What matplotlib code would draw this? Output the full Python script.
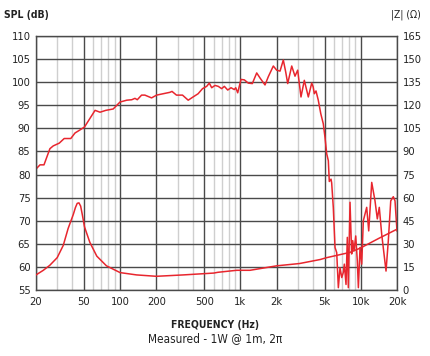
import matplotlib
matplotlib.use("Agg")
import matplotlib.pyplot as plt
from matplotlib.ticker import FixedLocator, NullLocator

plt.rcParams['font.family'] = ['DejaVu Sans']
plt.rcParams['font.stretch'] = 'condensed'

# SPL curve (Hz, dB)
spl_freq = [20, 21.6, 23.3, 26.1, 27.8, 31.2, 34.3, 38.9, 42.2, 46, 50.6, 61.9, 68.1, 76.1,
            87.6, 99.8, 113.6, 124.9, 132.9, 138.9, 150.8, 160.6, 182.6, 201, 228, 259, 270,
            294, 330, 368, 404, 445, 484, 524, 551, 577, 615, 654, 698, 735, 784, 835, 889,
            914, 949, 1011, 1077, 1162, 1255, 1365, 1455, 1600, 1705, 1876, 2000, 2133, 2271,
            2378, 2470, 2668, 2840, 2990, 3185, 3395, 3665, 3910, 4020, 4110, 4245, 4435, 4650,
            4880, 5045, 5210, 5375, 5475, 5660, 5730, 5910, 6110, 6310, 6510, 6720, 6950, 7160,
            7300, 7540, 7730, 7880, 8140, 8400, 8570, 8790, 9080, 9360, 9550, 9860, 10180,
            10500, 11200, 11640, 12330, 13130, 13720, 14250, 14920, 16210, 16940, 17740, 18630,
            19250, 20000]
spl_db = [81.2, 82.1, 82.1, 85.6, 86.2, 86.8, 87.8, 87.8, 89.0, 89.6, 90.3, 93.9, 93.5, 93.9,
          94.2, 95.7, 96.1, 96.2, 96.5, 96.2, 97.2, 97.2, 96.6, 97.2, 97.5, 97.8, 98.0,
          97.2, 97.2, 96.1, 96.8, 97.5, 98.6, 99.1, 99.8, 98.8, 99.3, 99.1, 98.6, 99.1, 98.3, 98.8, 98.4,
          98.8, 97.7, 100.6, 100.5, 99.8, 99.7, 102.0, 100.9, 99.4, 101.2, 103.5, 102.6, 102.4, 104.8,
          102.2, 99.7, 103.5, 101.3, 102.6, 96.8, 100.4, 96.8, 99.8, 99.0, 97.5, 98.1, 96.1, 93.2,
          91.0, 88.0, 84.5, 83.0, 78.5, 79.0, 78.2, 72.9, 64.2, 63.1, 55.5, 59.8, 57.7, 58.8,
          60.6, 56.2, 66.4, 55.5, 74.0, 62.8, 65.7, 63.5, 66.7, 61.3, 55.5, 64.2, 60.6,
          70.0, 72.9, 67.8, 78.3, 74.3, 70.4, 72.9, 67.1, 59.1, 65.7, 74.3, 75.2,
          74.3, 67.8]

# impedance curve (Hz, ohm)
imp_freq = [20, 23, 26, 30, 33.7, 37, 40.8, 42.5, 44, 45.5, 47, 48.5, 50.6, 56, 64, 77, 100,
            137, 200, 335, 600, 650, 930, 1200, 2000, 3100, 4600, 5200, 8100, 9900, 14250, 20000]
imp_ohm = [9.8, 12.8, 16, 21, 29, 40, 49, 53.5, 56.3, 56.6, 54.5, 49, 41, 31, 22, 15.7, 11.3,
           9.8, 8.9, 9.8, 11.0, 11.5, 12.8, 12.8, 15.7, 17.2, 19.8, 21.0, 24.4, 27.2, 33.7, 39.5]

x_ticks = [20, 50, 100, 200, 500, 1000, 2000, 5000, 10000, 20000]
x_labels = ['20', '50', '100', '200', '500', '1k', '2k', '5k', '10k', '20k']
x_minor = [30, 40, 60, 70, 80, 90, 300, 400, 600, 700, 800, 900,
           3000, 4000, 6000, 7000, 8000, 9000]
spl_ticks = list(range(55, 111, 5))
imp_ticks = list(range(0, 166, 15))

red = '#e8262e'
dark = '#4a4a4a'

fig = plt.figure(figsize=(4.3, 3.56), dpi=100)
ax = fig.add_axes([36 / 430, 1 - 290 / 356, 361 / 430, 254 / 356])
ax.set_xscale('log')
ax.set_xlim(20, 20000)
ax.set_ylim(55, 110)

ax.xaxis.set_major_locator(FixedLocator(x_ticks))
ax.set_xticklabels(x_labels)
ax.xaxis.set_minor_locator(FixedLocator(x_minor))
ax.yaxis.set_major_locator(FixedLocator(spl_ticks))
ax.yaxis.set_minor_locator(NullLocator())

ax.grid(True, which='major', color=dark, lw=1.0)
ax.grid(True, which='minor', axis='x', color='#cfcfcf', lw=1.0)
ax.set_axisbelow(True)
ax.tick_params(which='both', length=0, labelsize=8, colors='#222222')
ax.tick_params(axis='x', pad=5)
ax.tick_params(axis='y', pad=4)
for s in ax.spines.values():
    s.set_color(dark)
    s.set_linewidth(1.0)

ax.plot(spl_freq, spl_db, color=red, lw=1.1)

ax2 = ax.twinx()
ax2.set_ylim(0, 165)
ax2.yaxis.set_major_locator(FixedLocator(imp_ticks))
ax2.tick_params(length=0, labelsize=8, colors='#222222', pad=4)
for s in ax2.spines.values():
    s.set_visible(False)
ax2.plot(imp_freq, imp_ohm, color=red, lw=1.1)

fig.text(26 / 430, 1 - 15 / 356, 'SPL (dB)', ha='center', va='center', fontsize=7.5,
         fontweight='bold', color='#222222')
fig.text(406 / 430, 1 - 15 / 356, '|Z| (Ω)', ha='center', va='center', fontsize=7.5,
         color='#222222')
fig.text(215 / 430, 1 - 325 / 356, 'FREQUENCY (Hz)', ha='center', va='center', fontsize=7.5,
         fontweight='bold', color='#222222')
fig.text(215 / 430, 1 - 339 / 356, 'Measured - 1W @ 1m, 2π', ha='center', va='center',
         fontsize=8.5, color='#222222')

fig.savefig('out.png', dpi=100)
